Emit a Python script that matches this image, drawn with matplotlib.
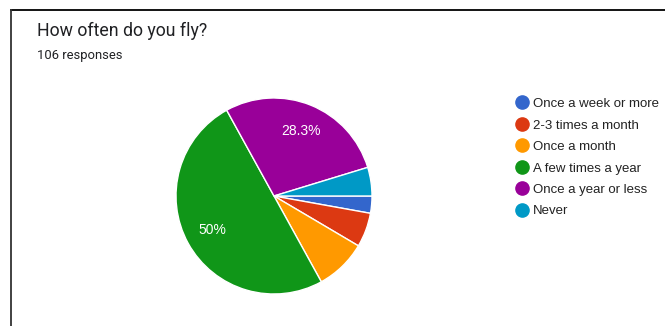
import matplotlib
matplotlib.use("Agg")
import matplotlib.pyplot as plt
from matplotlib.lines import Line2D

plt.rcParams['font.family'] = ['Roboto', 'DejaVu Sans']

labels = ["Once a week or more", "2-3 times a month", "Once a month",
          "A few times a year", "Once a year or less", "Never"]
counts = [3, 6, 9, 53, 30, 5]
colors = ["#3366cc", "#dc3912", "#ff9900", "#109618", "#990099", "#0099c6"]

W, H = 665, 326
fig = plt.figure(figsize=(W / 100, H / 100), dpi=100)

# pie center (274, 196) px, radius 98 px
cx, cy, r = 274, 196, 98
ax = fig.add_axes([(cx - r) / W, (H - cy - r) / H, 2 * r / W, 2 * r / H])


def fmt(p):
    if p < 10:
        return ""
    return f"{p:.1f}".rstrip('0').rstrip('.') + "%"


ax.pie(counts, colors=colors, startangle=0, counterclock=False,
       autopct=fmt, pctdistance=0.72, radius=1,
       wedgeprops=dict(edgecolor="white", linewidth=1, clip_on=False),
       textprops=dict(color="white", fontsize=10, family="Liberation Sans"))
ax.set_xlim(-1, 1)
ax.set_ylim(-1, 1)
ax.set_aspect("equal")
ax.axis("off")

fig.text(37 / W, 1 - 31 / H, "How often do you fly?", fontsize=12.8,
         color="#202124", va="center", ha="left")
fig.text(37 / W, 1 - 55 / H, "106 responses", fontsize=9.4,
         color="#202124", va="center", ha="left")

handles = [Line2D([], [], marker="o", linestyle="none", markersize=9.5,
                  markerfacecolor=c, markeredgecolor=c) for c in colors]
fig.legend(handles, labels, loc="upper left",
           bbox_to_anchor=(500 / W, 1 - 86 / H), frameon=False,
           prop=dict(family="Liberation Sans", size=9.5),
           labelspacing=0.7, handletextpad=0.1,
           handlelength=1.5, labelcolor="#222222")

# frame lines
fig.add_artist(Line2D([11 / W, 1], [1 - 10 / H, 1 - 10 / H], color="black", lw=1.3))
fig.add_artist(Line2D([11 / W, 11 / W], [0, 1 - 10 / H], color="#333333", lw=1.3))

fig.savefig("out.png", dpi=100)
